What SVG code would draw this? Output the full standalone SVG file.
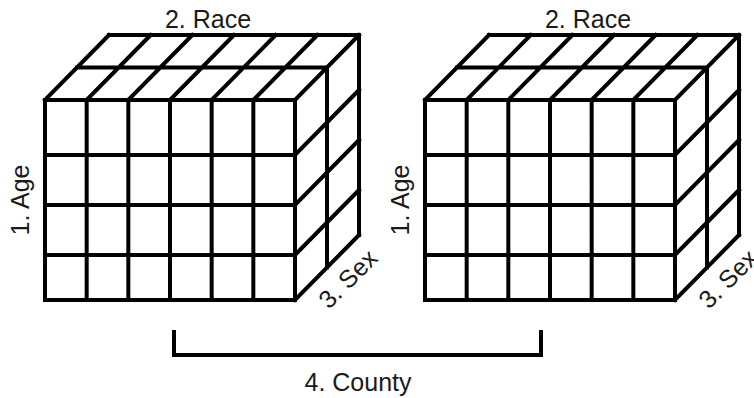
<svg xmlns="http://www.w3.org/2000/svg" xmlns:xlink="http://www.w3.org/1999/xlink" width="754" height="398" viewBox="0 0 754 398">
<style>
.ln{fill:none;stroke:#000;stroke-width:4;stroke-linecap:square;stroke-linejoin:miter}
.lbl{font-family:"Liberation Sans",Arial,sans-serif;font-size:25px;fill:#1a1a1a}
</style>
<defs>
<g id="cube">
<path class="ln" d="M45 100V300M86.67 100V300M128.33 100V300M170 100V300M211.67 100V300M253.33 100V300M295 100V300
M45 100H295M45 155H295M45 205H295M45 255H295M45 300H295
M45 100L109 35M86.67 100L150.67 35M128.33 100L192.33 35M170 100L234 35M211.67 100L275.67 35M253.33 100L317.33 35M295 100L359 35
M77 67.5H327M109 35H359
M295 155L359 90M295 205L359 140M295 255L359 190M295 300L359 235
M327 67.5V267.5M359 35V235"/>
<text class="lbl" x="208" y="28" text-anchor="middle">2. Race</text>
<text class="lbl" transform="translate(28.5 200) rotate(-90)" text-anchor="middle">1. Age</text>
<text class="lbl" transform="translate(354 285) rotate(-45)" text-anchor="middle">3. Sex</text>
</g>
</defs>
<g id="cube-left"><use xlink:href="#cube" href="#cube"/></g>
<g id="cube-right"><use xlink:href="#cube" href="#cube" transform="translate(380 0)"/></g>
<g id="connectors">
<path class="ln" d="M174 332V355H541V332"/>
</g>
<g id="county-label">
<text class="lbl" x="358" y="391" text-anchor="middle">4. County</text>
</g>
</svg>
